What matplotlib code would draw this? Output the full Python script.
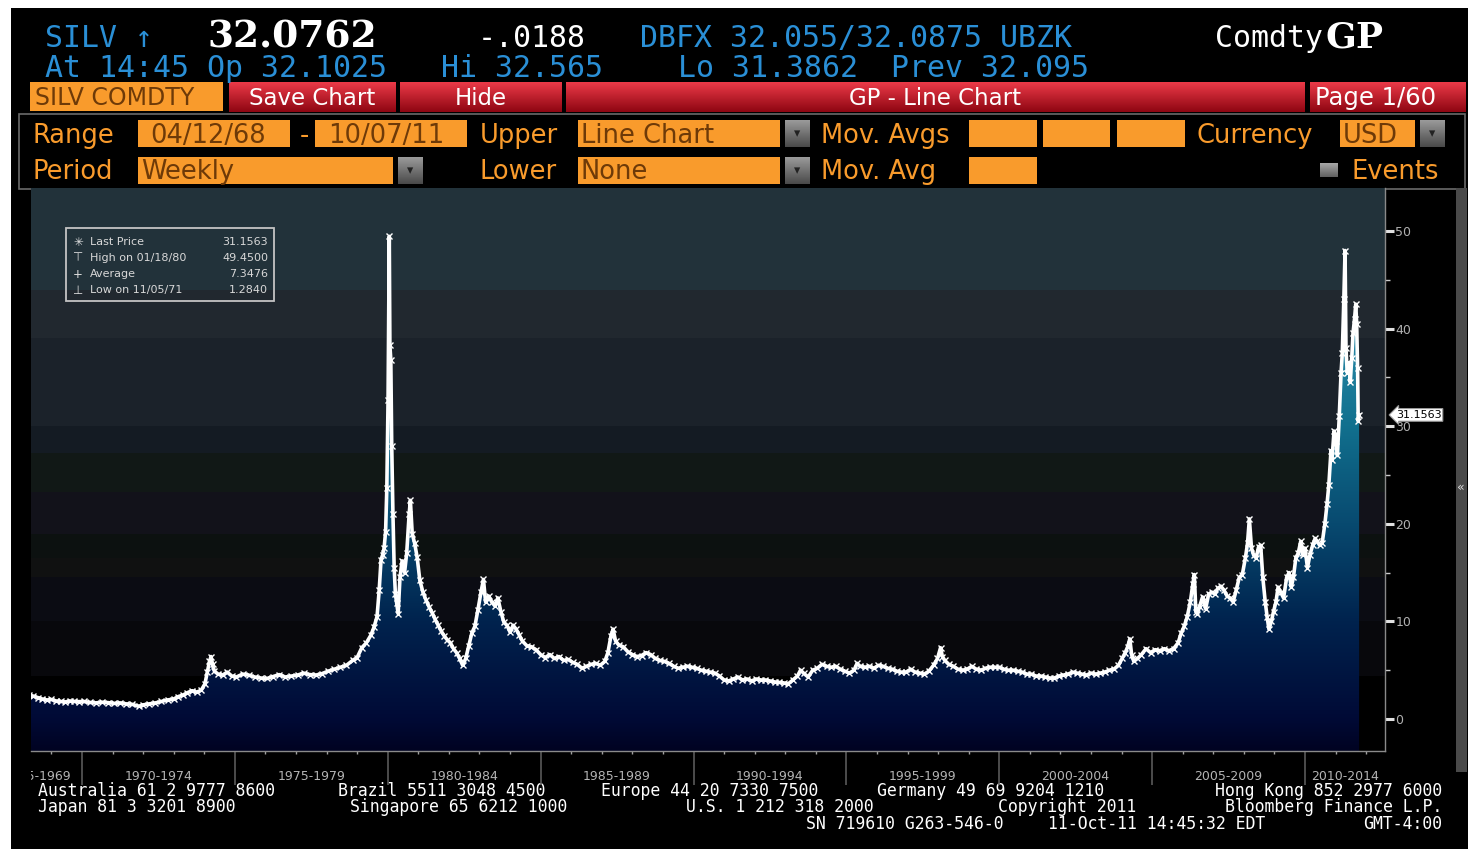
import numpy as np
import matplotlib
matplotlib.use("Agg")
import matplotlib.pyplot as plt
from matplotlib.patches import Rectangle, Polygon
from matplotlib.colors import LinearSegmentedColormap
from matplotlib.transforms import Bbox, TransformedBbox, blended_transform_factory

# ---------------- data (weekly silver) ----------------
dates = [
    1968.28, 1968.40, 1968.55, 1968.70, 1968.85, 1969.00, 1969.15, 1969.30, 1969.45, 1969.60, 1969.75, 1969.90,
    1970.05, 1970.25, 1970.45, 1970.65, 1970.85, 1971.05, 1971.25, 1971.45, 1971.65, 1971.85,
    1972.00, 1972.20, 1972.40, 1972.60, 1972.80, 1973.00, 1973.15, 1973.30, 1973.45, 1973.60, 1973.75, 1973.90,
    1974.02, 1974.10, 1974.17, 1974.22, 1974.27, 1974.33, 1974.45, 1974.60, 1974.75, 1974.90,
    1975.05, 1975.25, 1975.45, 1975.65, 1975.85, 1976.05, 1976.25, 1976.45, 1976.65, 1976.85,
    1977.05, 1977.25, 1977.45, 1977.65, 1977.85, 1978.05, 1978.25, 1978.45, 1978.65, 1978.85,
    1979.00, 1979.15, 1979.30, 1979.45, 1979.55, 1979.65, 1979.72, 1979.78, 1979.83, 1979.88, 1979.93, 1979.97,
    1980.01, 1980.05, 1980.07, 1980.10, 1980.13, 1980.17, 1980.21, 1980.25, 1980.29, 1980.34, 1980.40, 1980.47,
    1980.55, 1980.62, 1980.70, 1980.74, 1980.80, 1980.88, 1980.96,
    1981.05, 1981.15, 1981.25, 1981.35, 1981.45, 1981.55, 1981.65, 1981.75, 1981.85, 1981.95,
    1982.05, 1982.15, 1982.25, 1982.35, 1982.45, 1982.55, 1982.65, 1982.75, 1982.85, 1982.95,
    1983.05, 1983.13, 1983.20, 1983.30, 1983.40, 1983.50, 1983.60, 1983.70, 1983.80, 1983.90,
    1984.00, 1984.10, 1984.20, 1984.30, 1984.40, 1984.55, 1984.70, 1984.85,
    1985.00, 1985.15, 1985.30, 1985.45, 1985.60, 1985.75, 1985.90,
    1986.05, 1986.20, 1986.35, 1986.50, 1986.65, 1986.80, 1986.95,
    1987.10, 1987.20, 1987.30, 1987.37, 1987.45, 1987.55, 1987.70, 1987.85,
    1988.00, 1988.15, 1988.30, 1988.45, 1988.60, 1988.75, 1988.90,
    1989.05, 1989.20, 1989.35, 1989.50, 1989.65, 1989.80, 1989.95,
    1990.10, 1990.25, 1990.40, 1990.55, 1990.70, 1990.85,
    1991.00, 1991.15, 1991.30, 1991.45, 1991.60, 1991.75, 1991.90,
    1992.05, 1992.20, 1992.35, 1992.50, 1992.65, 1992.80, 1992.95,
    1993.10, 1993.25, 1993.40, 1993.50, 1993.60, 1993.75, 1993.90,
    1994.05, 1994.20, 1994.35, 1994.50, 1994.65, 1994.80, 1994.95,
    1995.10, 1995.25, 1995.35, 1995.45, 1995.60, 1995.75, 1995.90,
    1996.05, 1996.20, 1996.35, 1996.50, 1996.65, 1996.80, 1996.95,
    1997.10, 1997.25, 1997.40, 1997.55, 1997.70, 1997.85, 1997.98,
    1998.08, 1998.14, 1998.22, 1998.35, 1998.50, 1998.65, 1998.80, 1998.95,
    1999.10, 1999.25, 1999.40, 1999.55, 1999.70, 1999.85,
    2000.00, 2000.15, 2000.30, 2000.45, 2000.60, 2000.75, 2000.90,
    2001.05, 2001.20, 2001.35, 2001.50, 2001.65, 2001.80, 2001.95,
    2002.10, 2002.25, 2002.40, 2002.55, 2002.70, 2002.85,
    2003.00, 2003.15, 2003.30, 2003.45, 2003.60, 2003.75, 2003.90,
    2004.02, 2004.12, 2004.20, 2004.27, 2004.33, 2004.40, 2004.52, 2004.65, 2004.80, 2004.95,
    2005.10, 2005.25, 2005.40, 2005.55, 2005.70, 2005.85, 2005.95,
    2006.05, 2006.15, 2006.25, 2006.33, 2006.38, 2006.43, 2006.48, 2006.55, 2006.65, 2006.75, 2006.85, 2006.95,
    2007.05, 2007.15, 2007.25, 2007.35, 2007.45, 2007.55, 2007.65, 2007.75, 2007.85, 2007.95,
    2008.05, 2008.12, 2008.18, 2008.25, 2008.32, 2008.40, 2008.48, 2008.55, 2008.62, 2008.70, 2008.76, 2008.82,
    2008.90, 2008.97,
    2009.05, 2009.12, 2009.20, 2009.30, 2009.40, 2009.48, 2009.55, 2009.62, 2009.70, 2009.78, 2009.86, 2009.93,
    2010.00, 2010.08, 2010.16, 2010.25, 2010.33, 2010.40, 2010.48, 2010.56, 2010.65, 2010.72, 2010.78, 2010.85,
    2010.88, 2010.95,
    2011.02, 2011.06, 2011.12, 2011.18, 2011.22, 2011.27, 2011.31, 2011.34, 2011.38, 2011.44, 2011.48, 2011.53,
    2011.57, 2011.62, 2011.66, 2011.69, 2011.72, 2011.74, 2011.77,
]
prices = [
    2.45, 2.35, 2.20, 2.05, 1.95, 2.00, 1.85, 1.80, 1.75, 1.85, 1.80, 1.78,
    1.80, 1.70, 1.65, 1.72, 1.68, 1.60, 1.65, 1.55, 1.50, 1.30,
    1.45, 1.55, 1.65, 1.80, 1.95, 2.05, 2.30, 2.45, 2.70, 2.90, 2.75, 2.95,
    3.60, 4.80, 5.90, 6.40, 5.60, 4.90, 4.60, 4.50, 4.80, 4.40,
    4.30, 4.60, 4.50, 4.30, 4.20, 4.15, 4.35, 4.55, 4.30, 4.40,
    4.50, 4.70, 4.55, 4.50, 4.65, 4.90, 5.10, 5.30, 5.50, 6.00,
    6.30, 7.30, 7.80, 8.60, 9.40, 10.50, 13.20, 16.30, 16.80, 17.50, 19.20, 23.70,
    32.70, 49.45, 38.30, 36.80, 28.00, 21.00, 15.50, 12.80, 11.90, 10.80, 14.50, 16.20,
    15.00, 17.00, 21.00, 22.40, 19.00, 18.00, 16.60,
    14.20, 13.00, 12.20, 11.50, 10.90, 10.20, 9.60, 9.00, 8.50, 8.10,
    7.80, 7.20, 6.80, 6.20, 5.50, 6.20, 7.50, 8.80, 9.50, 11.20,
    13.00, 14.30, 12.00, 12.60, 12.00, 11.60, 12.40, 11.00, 9.90, 9.60,
    8.90, 9.60, 9.20, 8.60, 8.00, 7.50, 7.40, 7.10,
    6.60, 6.30, 6.60, 6.20, 6.40, 6.00, 6.10,
    5.80, 5.60, 5.20, 5.40, 5.60, 5.70, 5.50,
    5.90, 6.80, 8.50, 9.20, 8.00, 7.60, 7.40, 6.90,
    6.60, 6.40, 6.50, 6.80, 6.60, 6.20, 6.00,
    5.90, 5.70, 5.40, 5.20, 5.30, 5.40, 5.30,
    5.20, 5.00, 4.90, 4.80, 4.70, 4.40,
    4.00, 3.90, 4.10, 4.30, 4.00, 4.10, 3.90,
    4.10, 4.00, 4.00, 3.90, 3.80, 3.75, 3.70,
    3.60, 4.00, 4.40, 5.00, 4.70, 4.30, 5.00,
    5.20, 5.60, 5.40, 5.30, 5.40, 5.10, 4.90,
    4.70, 5.00, 5.70, 5.40, 5.30, 5.40, 5.20,
    5.50, 5.40, 5.20, 5.10, 4.90, 4.80, 4.80,
    5.10, 4.80, 4.70, 4.60, 4.90, 5.50, 6.20,
    7.30, 6.40, 6.00, 5.60, 5.40, 5.10, 5.00, 5.10,
    5.40, 5.10, 5.00, 5.20, 5.30, 5.30,
    5.30, 5.10, 5.00, 5.00, 4.90, 4.80, 4.60,
    4.60, 4.40, 4.40, 4.30, 4.20, 4.20, 4.40,
    4.50, 4.60, 4.80, 4.70, 4.60, 4.50,
    4.70, 4.60, 4.70, 4.80, 5.00, 5.10, 5.50,
    6.20, 6.80, 7.40, 8.20, 6.60, 5.90, 6.20, 6.60, 7.20, 6.80,
    7.10, 7.00, 7.20, 7.00, 7.20, 7.80, 8.80,
    9.50, 10.50, 12.00, 13.80, 14.80, 11.00, 10.80, 11.50, 12.50, 11.30, 12.80, 13.00,
    12.80, 13.40, 13.60, 13.20, 12.60, 12.40, 12.00, 13.20, 14.50, 14.80,
    16.50, 18.00, 20.50, 17.50, 16.80, 16.50, 17.60, 17.80, 14.50, 12.00, 10.50, 9.20,
    10.00, 11.00,
    12.00, 13.50, 13.00, 12.40, 14.50, 15.00, 13.50, 14.50, 16.50, 17.00, 18.20, 16.80,
    17.50, 15.50, 16.80, 17.80, 18.50, 18.20, 17.80, 18.00, 20.00, 22.00, 24.00, 27.50,
    26.50, 29.50,
    28.50, 27.00, 31.00, 35.50, 37.50, 43.00, 48.00, 38.00, 35.50, 36.50, 34.50, 37.00,
    39.50, 41.00, 42.50, 40.50, 36.00, 30.50, 31.16,
]
assert len(dates) == len(prices)

period_labels = ["1965-1969", "1970-1974", "1975-1979", "1980-1984", "1985-1989",
                 "1990-1994", "1995-1999", "2000-2004", "2005-2009", "2010-2014"]
period_centers = [1968.56, 1972.5, 1977.5, 1982.5, 1987.5, 1992.5, 1997.5, 2002.5, 2007.5, 2011.31]
period_ticks = [1970, 1975, 1980, 1985, 1990, 1995, 2000, 2005, 2010]
y_ticks = [0, 10, 20, 30, 40, 50]
y_minor = [5, 15, 25, 35, 45]
last_price = 31.1563
legend_rows = [("\u2733", "Last Price", "31.1563"),
               ("\u22a4", "High on 01/18/80", "49.4500"),
               ("+", "Average", "7.3476"),
               ("\u22a5", "Low on 11/05/71", "1.2840")]

# ---------------- figure & pixel-space helper axes ----------------
W, H = 1470, 849
fig = plt.figure(figsize=(W / 100, H / 100), dpi=100)
fig.patch.set_facecolor("white")

bg = fig.add_axes([0, 0, 1, 1], zorder=0)
bg.set_xlim(0, W); bg.set_ylim(H, 0); bg.axis("off")
ov = fig.add_axes([0, 0, 1, 1], zorder=5)
ov.set_xlim(0, W); ov.set_ylim(H, 0); ov.axis("off")

BLUE = "#2a8fd6"
ORANGE = "#f99b2c"
FIELD_TXT = "#6e3a08"
MONO = "DejaVu Sans Mono"

bg.add_patch(Rectangle((11, 8), W - 13, H - 8, fc="black", ec="none", zorder=0))


def grad_rect(axx, x0, y0, x1, y1, ctop, cbot, z=1):
    cm = LinearSegmentedColormap.from_list("g", [ctop, cbot])
    axx.imshow(np.linspace(0, 1, 64).reshape(-1, 1), extent=[x0, x1, y1, y0], cmap=cm,
               aspect="auto", origin="upper", zorder=z, interpolation="bilinear")


# ---- header rows ----
HF = 21.5
bg.text(45, 47, "SILV \u2191", color=BLUE, fontsize=HF, family=MONO, va="baseline")
bg.text(207, 47, "32.0762", color="white", fontsize=27, family="DejaVu Serif",
        fontweight="bold", va="baseline")
bg.text(478, 47, "-.0188", color="white", fontsize=HF, family=MONO, va="baseline")
bg.text(640, 47, "DBFX 32.055/32.0875 UBZK", color=BLUE, fontsize=HF, family=MONO, va="baseline")
bg.text(1215, 47, "Comdty", color="white", fontsize=HF, family=MONO, va="baseline")
bg.text(1326, 47, "GP", color="white", fontsize=26, family="DejaVu Serif", fontweight="bold",
        va="baseline")
bg.text(45, 77, "At 14:45 Op 32.1025", color=BLUE, fontsize=HF, family=MONO, va="baseline")
bg.text(441, 77, "Hi 32.565", color=BLUE, fontsize=HF, family=MONO, va="baseline")
bg.text(678, 77, "Lo 31.3862", color=BLUE, fontsize=HF, family=MONO, va="baseline")
bg.text(891, 77, "Prev 32.095", color=BLUE, fontsize=HF, family=MONO, va="baseline")

# ---- red button bar ----
bg.add_patch(Rectangle((30, 82), 193, 29, fc=ORANGE, ec="none", zorder=1))
bg.text(35, 105, "SILV COMDTY", color=FIELD_TXT, fontsize=17, va="baseline", zorder=3)
for (x0, x1) in [(229, 396), (400, 562), (566, 1305), (1310, 1466)]:
    grad_rect(bg, x0, 82, x1, 112, "#ec3a48", "#8e0612", z=1)
bg.text(312, 105, "Save Chart", color="white", fontsize=16.5, ha="center", va="baseline", zorder=3)
bg.text(481, 105, "Hide", color="white", fontsize=16.5, ha="center", va="baseline", zorder=3)
bg.text(935, 105, "GP - Line Chart", color="white", fontsize=16.5, ha="center", va="baseline", zorder=3)
bg.text(1315, 105, "Page 1/60", color="white", fontsize=17.5, va="baseline", zorder=3)

# ---- settings panel ----
bg.add_patch(Rectangle((19, 114), 1446, 75, fc="none", ec="#6a6a6a", lw=1.2, zorder=1))
for (x0, x1) in [(138, 290), (315, 467), (578, 780), (969, 1037), (1043, 1110), (1117, 1185), (1340, 1415)]:
    bg.add_patch(Rectangle((x0, 120), x1 - x0, 27, fc=ORANGE, ec="none", zorder=1))
for (x0, x1) in [(138, 393), (578, 780), (969, 1037)]:
    bg.add_patch(Rectangle((x0, 157), x1 - x0, 27, fc=ORANGE, ec="none", zorder=1))
for (x0, y0) in [(785, 120), (1420, 120), (398, 157), (785, 157)]:
    grad_rect(bg, x0, y0, x0 + 25, y0 + 27, "#9a9a9a", "#4a4a4a", z=1)
    bg.text(x0 + 12.5, y0 + 14, "\u25be", color="#222222", fontsize=9, ha="center", va="center", zorder=3)
grad_rect(bg, 1320, 163, 1338, 177, "#a8a8a8", "#606060", z=1)

row4, row5 = 143, 179
for (x, t) in [(33, "Range"), (300, "-"), (480, "Upper"), (821, "Mov. Avgs"), (1197, "Currency")]:
    bg.text(x, row4, t, color=ORANGE, fontsize=18.5, va="baseline", zorder=3)
for (x, t) in [(150, "04/12/68"), (328, "10/07/11"), (581, "Line Chart"), (1343, "USD")]:
    bg.text(x, row4, t, color=FIELD_TXT, fontsize=18.5, va="baseline", zorder=3)
for (x, t) in [(33, "Period"), (480, "Lower"), (821, "Mov. Avg"), (1352, "Events")]:
    bg.text(x, row5, t, color=ORANGE, fontsize=18.5, va="baseline", zorder=3)
for (x, t) in [(141, "Weekly"), (581, "None")]:
    bg.text(x, row5, t, color=FIELD_TXT, fontsize=18.5, va="baseline", zorder=3)

# ---- scroll bar at right ----
bg.add_patch(Rectangle((1456, 188), 11, 584, fc="#4a4a4a", ec="none", zorder=1))
bg.text(1461, 487, "\u00ab", color="#dddddd", fontsize=9, ha="center", va="center", zorder=3)

# ---------------- main chart ----------------
PX_X0, PX_X1, PX_Y0, PX_Y1 = 31, 1385, 188, 751
ax = fig.add_axes([PX_X0 / W, (H - PX_Y1) / H, (PX_X1 - PX_X0) / W, (PX_Y1 - PX_Y0) / H], zorder=2)
PPY = 30.575  # pixels per year
PPU = 9.76    # pixels per dollar
xlo = 1970 + (PX_X0 - 82) / PPY
xhi = 1970 + (PX_X1 - 82) / PPY
ylo = -(PX_Y1 - 719) / PPU
yhi = (719 - PX_Y0) / PPU
ax.set_facecolor("black")

bands = [(44.0, yhi, "#22323a"), (39.0, 44.0, "#21282f"), (30.0, 39.0, "#1b222a"),
         (27.3, 30.0, "#141b23"), (23.3, 27.3, "#111816"), (19.0, 23.3, "#12121a"),
         (16.5, 19.0, "#0c1110"), (14.5, 16.5, "#101111"), (10.0, 14.5, "#0b0c13"),
         (4.4, 10.0, "#08080c"), (ylo, 4.4, "#000000")]
for lo, hi, c in bands:
    ax.axhspan(lo, hi, color=c, lw=0, zorder=0)

# gradient fill under the price line
stops = [(ylo, "#000322"), (0, "#000a36"), (10, "#00234e"), (20, "#084a70"),
         (30, "#11708e"), (40, "#2a8aa8"), (yhi, "#3aa0c0")]
cmap_fill = LinearSegmentedColormap.from_list(
    "fill", [((v - ylo) / (yhi - ylo), c) for v, c in stops])
poly = Polygon(np.column_stack([[dates[0]] + dates + [dates[-1]], [ylo] + prices + [ylo]]),
               closed=True, fc="none", ec="none", transform=ax.transData)
ax.add_patch(poly)
im = ax.imshow(np.linspace(0, 1, 256).reshape(-1, 1), extent=[xlo, xhi, ylo, yhi],
               origin="lower", aspect="auto", cmap=cmap_fill, zorder=2, interpolation="bilinear")
im.set_clip_path(poly)

ax.plot(dates, prices, color="white", lw=2.6, zorder=4, solid_joinstyle="round")
ax.plot(dates, prices, ls="none", marker="x", ms=4, mew=1.0, color="white", zorder=5)

ax.set_xlim(xlo, xhi)
ax.set_ylim(ylo, yhi)

for s in ["left", "top"]:
    ax.spines[s].set_visible(False)
for s in ["bottom", "right"]:
    ax.spines[s].set_color("#8a8a8a")
    ax.spines[s].set_linewidth(1.0)

ax.yaxis.tick_right()
ax.set_yticks(y_ticks)
ax.set_yticklabels([str(v) for v in y_ticks])
ax.set_yticks(y_minor, minor=True)
ax.tick_params(axis="y", which="major", length=6.5, width=2.2, color="#e0e0e0",
               labelsize=9, labelcolor="#b0b0b0", pad=1)
ax.tick_params(axis="y", which="minor", length=3.5, width=1, color="#cccccc")

ax.set_xticks(period_ticks)
ax.set_xticklabels([])
ax.set_xticks(list(range(1969, 2013)), minor=True)
ax.tick_params(axis="x", which="major", length=24.5, width=1.2, color="#5a5a5a")
ax.tick_params(axis="x", which="minor", length=2.5, width=1, color="#a0a0a0")

# period labels under the axis
tr = blended_transform_factory(ax.transData, bg.transData)
clip = TransformedBbox(Bbox([[PX_X0, 760], [PX_X1, 790]]), bg.transData)
for lab, cx in zip(period_labels, period_centers):
    t = bg.text(cx, 777, lab, transform=tr, color="#b4b4b4", fontsize=9,
                ha="center", va="center", zorder=3)
    t.set_clip_box(clip)
    t.set_clip_on(True)

# last price tag
trp = blended_transform_factory(ax.transAxes, ax.transData)
ax.text(1.008, last_price, "31.1563", transform=trp, fontsize=8, color="black",
        ha="left", va="center", zorder=6, clip_on=False,
        bbox=dict(boxstyle="larrow,pad=0.12", fc="white", ec="#999999", lw=0.8))

# legend box (overlay, pixel coords)
ov.add_patch(Rectangle((66, 228), 208, 73, fc="none", ec="#c4c4c4", lw=1.3, zorder=6))
for i, (sym, lab, val) in enumerate(legend_rows):
    yy = 242 + i * 16
    ov.text(78, yy, sym, color="#e0e0e0", fontsize=8.5, ha="center", va="center", zorder=7)
    ov.text(90, yy, lab, color="#d8d8d8", fontsize=8, ha="left", va="center", zorder=7)
    ov.text(268, yy, val, color="#d8d8d8", fontsize=8, ha="right", va="center", zorder=7)

# ---------------- footer ----------------
FS = 11.9
foot = [
    (38, 796, "left", "Australia 61 2 9777 8600"),
    (338, 796, "left", "Brazil 5511 3048 4500"),
    (601, 796, "left", "Europe 44 20 7330 7500"),
    (877, 796, "left", "Germany 49 69 9204 1210"),
    (1442, 796, "right", "Hong Kong 852 2977 6000"),
    (38, 812.5, "left", "Japan 81 3 3201 8900"),
    (350, 812.5, "left", "Singapore 65 6212 1000"),
    (686, 812.5, "left", "U.S. 1 212 318 2000"),
    (998, 812.5, "left", "Copyright 2011"),
    (1442, 812.5, "right", "Bloomberg Finance L.P."),
    (806, 829, "left", "SN 719610 G263-546-0"),
    (1048, 829, "left", "11-Oct-11 14:45:32 EDT"),
    (1442, 829, "right", "GMT-4:00"),
]
for x, y, ha, t in foot:
    bg.text(x, y, t, color="white", fontsize=FS, family=MONO, ha=ha, va="baseline", zorder=3)

bg.set_xlim(0, W); bg.set_ylim(H, 0)
fig.savefig("out.png", dpi=100, facecolor="white")
